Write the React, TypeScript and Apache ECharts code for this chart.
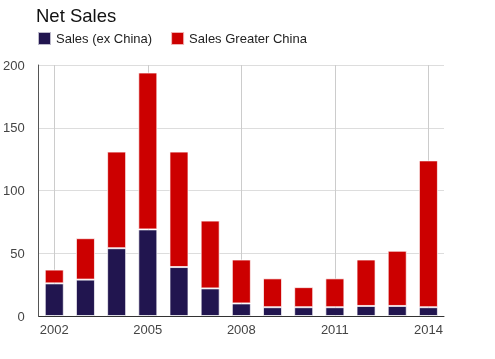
import React, { useEffect, useRef } from "react";
import * as echarts from "echarts";

const years = ["2002","2003","2004","2005","2006","2007","2008","2009","2010","2011","2012","2013","2014"];
const salesExChina = [26, 29, 54, 69, 39, 22, 10, 7, 7, 7, 8, 8, 7];
const salesGreaterChina = [11, 33, 77, 125, 92, 54, 35, 23, 16, 23, 37, 44, 117];
const gridYears = ["2002", "2005", "2008", "2011", "2014"];

export default function App() {
  const ref = useRef<HTMLDivElement>(null);
  useEffect(() => {
    const chart = echarts.init(ref.current!, null, { renderer: "svg" });
    chart.setOption({
      animation: false,
      title: {
        text: "Net Sales",
        left: 31,
        top: 1,
        textStyle: { fontFamily: "Liberation Sans", fontSize: 18.5, fontWeight: "normal", color: "#111" },
      },
      legend: {
        left: 32,
        top: 26,
        icon: "rect",
        itemWidth: 13,
        itemHeight: 13,
        itemGap: 18,
        textStyle: { fontFamily: "Liberation Sans", fontSize: 13, color: "#222" },
        data: ["Sales (ex China)", "Sales Greater China"],
      },
      grid: { left: 37, right: 51, top: 65, bottom: 43, containLabel: false },
      xAxis: {
        type: "category",
        data: years,
        axisLine: { lineStyle: { color: "#333", width: 1 } },
        axisTick: { show: false },
        splitLine: { show: false },
        axisLabel: {
          interval: 2,
          fontFamily: "Liberation Sans",
          fontSize: 13,
          color: "#444",
          margin: 7,
        },
      },
      yAxis: {
        type: "value",
        min: 0,
        max: 200,
        interval: 50,
        axisLine: { show: true, lineStyle: { color: "#555", width: 1 } },
        axisTick: { show: false },
        splitLine: { lineStyle: { color: "#ddd", width: 1 } },
        axisLabel: {
          fontFamily: "Liberation Sans",
          fontSize: 13,
          color: "#444",
          margin: 14,
        },
      },
      series: [
        {
          name: "Sales (ex China)",
          type: "bar",
          stack: "s",
          barWidth: "61%",
          data: salesExChina,
          itemStyle: { color: "#21154f", borderColor: "rgba(255,255,255,0.7)", borderWidth: 1 },
          markLine: {
            silent: true,
            symbol: "none",
            label: { show: false },
            lineStyle: { color: "#ccc", width: 1, type: "solid" },
            data: gridYears.map((y) => ({ xAxis: y })),
            z: 0,
          },
          z: 2,
        },
        {
          name: "Sales Greater China",
          type: "bar",
          stack: "s",
          barWidth: "61%",
          data: salesGreaterChina,
          itemStyle: { color: "#cc0000", borderColor: "rgba(255,255,255,0.7)", borderWidth: 1 },
          z: 2,
        },
      ],
    });
    return () => chart.dispose();
  }, []);
  return <div ref={ref} style={{ position: "fixed", left: 0, top: 0, width: 495, height: 359 }} />;
}
